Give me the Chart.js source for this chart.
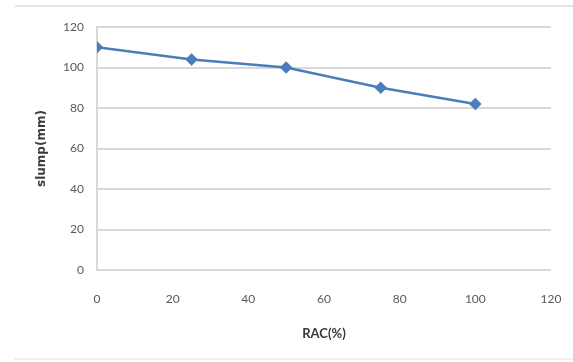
<!DOCTYPE html>
<html>
<head>
<meta charset="utf-8">
<script src="https://cdn.jsdelivr.net/npm/chart.js@4/dist/chart.umd.min.js"></script>
<style>
  html, body { margin: 0; padding: 0; background: #fff; }
  #wrap { position: relative; width: 573px; height: 362px; }
  #topline { position: absolute; left: 15px; top: 5px; width: 558px; height: 2px; background: #e4e4e4; }
  #botline { position: absolute; left: 14px; top: 358px; width: 559px; height: 2px; background: #f0f0f0; }
  canvas { position: absolute; left: 0; top: 0; filter: blur(0.5px); }
</style>
</head>
<body>
<div id="wrap">
  <div id="topline"></div>
  <div id="botline"></div>
  <canvas id="c" width="573" height="362"></canvas>
</div>
<script>
const racPercent = [0, 25, 50, 75, 100];
const slumpMm = [110, 104, 100, 90, 82];
const xTitle = "RAC(%)";
const yTitle = "slump(mm)";

const points = racPercent.map((x, i) => ({ x: x, y: slumpMm[i] }));
const tickFont = { family: "Lato, 'Open Sans', sans-serif", size: 12 };
const xTitleFont = { family: "Lato, 'Open Sans', sans-serif", size: 13, weight: "bold" };
const yTitleFont = { family: "'DejaVu Sans', sans-serif", size: 12, weight: "bold" };

new Chart(document.getElementById("c"), {
  type: "scatter",
  data: {
    datasets: [{
      data: points,
      showLine: true,
      borderColor: "#4a7ebb",
      backgroundColor: "#4a7ebb",
      borderWidth: 2.5,
      pointStyle: "rectRot",
      pointRadius: 4.5,
      pointHoverRadius: 4.5,
      tension: 0
    }]
  },
  options: {
    responsive: false,
    animation: false,
    devicePixelRatio: 1,
    layout: { padding: { top: 27, right: 22, bottom: 0, left: 0 } },
    plugins: { legend: { display: false }, tooltip: { enabled: false } },
    scales: {
      x: {
        type: "linear",
        min: 0, max: 120,
        ticks: { stepSize: 20, color: "#595959", font: tickFont, padding: 3, maxRotation: 0 },
        grid: { display: false, drawTicks: true, tickLength: 19 },
        border: { display: false },
        title: { display: true, text: xTitle, color: "#3a3a3a", font: xTitleFont, padding: { top: 0, bottom: 20 } },
        afterFit: (s) => { s.height = 92; }
      },
      y: {
        min: 0, max: 120,
        ticks: { stepSize: 20, color: "#595959", font: tickFont, padding: 13 },
        grid: { color: "#d9d9d9", lineWidth: 2, drawTicks: false },
        border: { display: true, color: "#d9d9d9", width: 2 },
        title: { display: true, text: yTitle, color: "#3a3a3a", font: yTitleFont, padding: { top: 35, bottom: 0 } },
        afterFit: (s) => { s.width = 97; }
      }
    }
  }
});
</script>
</body>
</html>
